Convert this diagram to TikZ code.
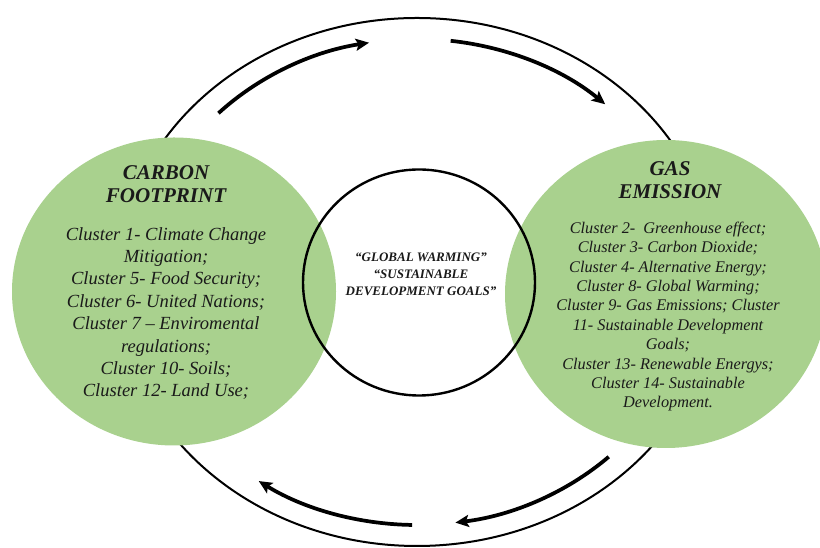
\documentclass[tikz,border=0pt]{standalone}
\usepackage{fontspec}
\setmainfont{Liberation Serif}
\usetikzlibrary{arrows.meta}
\definecolor{leafgreen}{HTML}{A9D18E}
\definecolor{inkgray}{HTML}{1A1A1A}
\begin{document}
\begin{tikzpicture}[x=0.75pt,y=0.75pt,
  blob/.style={fill=leafgreen},
  ring/.style={draw=black,line width=1.5pt},
  hub/.style={draw=black,line width=1.8pt},
  cyc/.style={line width=2.8pt,-{Stealth[length=10pt,width=9pt,inset=2pt]}},
  txt/.style={align=center,inner sep=0pt,anchor=base,text=inkgray},
  headtxt/.style={txt,font=\fontsize{15.75}{17.25}\selectfont\bfseries\itshape},
  lbody/.style={txt,font=\fontsize{13.9}{16.8}\selectfont\itshape},
  rbody/.style={txt,font=\fontsize{12.2}{14.55}\selectfont\itshape},
  midtxt/.style={txt,font=\fontsize{9.75}{13.1}\selectfont\bfseries\itshape}]
\useasboundingbox (0,0) rectangle (820,548);
\clip (0,0) rectangle (820,548);
\fill[white] (0,0) rectangle (820,548);

% outer cycle
\coordinate (ctr) at (417,266);
\draw[ring] (ctr) ellipse [x radius=300, y radius=264];

% the two themes
\fill[blob] (174,256.5) ellipse [x radius=162, y radius=154];
\fill[blob] (666,254) ellipse [x radius=161, y radius=154];

% shared core
\draw[hub] (419,265.5) ellipse [x radius=116, y radius=113];

% cycle arrows (clockwise)
\draw[cyc] ([shift={(136:276 and 243)}]ctr) arc[start angle=136, end angle=100, x radius=276, y radius=243];
\draw[cyc] ([shift={(83:276 and 243)}]ctr) arc[start angle=83, end angle=47, x radius=276, y radius=243];
\draw[cyc] ([shift={(-46:276 and 243)}]ctr) arc[start angle=-46, end angle=-82, x radius=276, y radius=243];
\draw[cyc] ([shift={(-91:276 and 243)}]ctr) arc[start angle=-91, end angle=-125, x radius=276, y radius=243];

% texts (node base = baseline of the last line)
\node[headtxt] (cfhead) at (166,345) {CARBON\\FOOTPRINT};
\node[lbody] (cfbody) at (166,151) {Cluster 1- Climate Change\\Mitigation;\\Cluster 5- Food Security;\\Cluster 6- United Nations;\\Cluster 7 – Enviromental\\regulations;\\Cluster 10- Soils;\\Cluster 12- Land Use;};
\node[headtxt] (gehead) at (670,349) {GAS\\EMISSION};
\node[rbody] (gebody) at (668,140) {Cluster 2-\ \ Greenhouse effect;\\Cluster 3- Carbon Dioxide;\\Cluster 4- Alternative Energy;\\Cluster 8- Global Warming;\\Cluster 9- Gas Emissions; Cluster\\11- Sustainable Development\\Goals;\\Cluster 13- Renewable Energys;\\Cluster 14- Sustainable\\Development.};
\node[midtxt] (core) at (421,252) {“GLOBAL WARMING”\\“SUSTAINABLE\\DEVELOPMENT GOALS”};
\end{tikzpicture}
\end{document}
